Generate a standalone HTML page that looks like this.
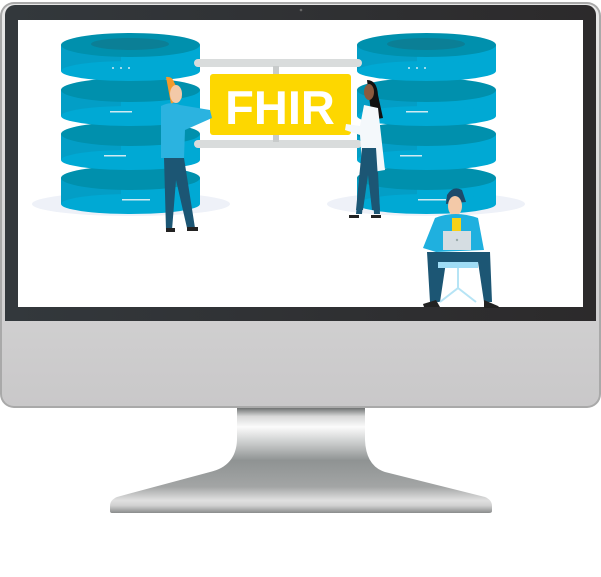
<!DOCTYPE html>
<html><head><meta charset="utf-8"><style>
html,body{margin:0;padding:0;background:#fff;}
svg{display:block;}
</style></head><body>
<svg width="601" height="577" viewBox="0 0 601 577" xmlns="http://www.w3.org/2000/svg">
<defs>
<linearGradient id="chin" x1="0" y1="0" x2="0" y2="1">
<stop offset="0" stop-color="#e8e8e8"/><stop offset="1" stop-color="#c9c8c9"/></linearGradient>
<linearGradient id="neck" x1="0" y1="0" x2="0" y2="1">
<stop offset="0" stop-color="#6f7272"/><stop offset="0.08" stop-color="#d8d9d9"/><stop offset="0.18" stop-color="#fbfbfb"/><stop offset="0.35" stop-color="#c4c6c6"/><stop offset="0.5" stop-color="#8f9393"/><stop offset="0.75" stop-color="#a3a5a5"/><stop offset="0.88" stop-color="#e0e0e0"/><stop offset="0.93" stop-color="#d0d0d0"/><stop offset="1" stop-color="#8a8c8c"/></linearGradient>
<linearGradient id="bez" x1="0" y1="0" x2="1" y2="0">
<stop offset="0" stop-color="#33383c"/><stop offset="1" stop-color="#2c2a2b"/></linearGradient>
<g id="disc">
<rect x="0" y="12" width="139" height="26" fill="#00a9d4"/>
<rect x="0" y="12" width="60" height="26" fill="#039ec6"/>
<ellipse cx="69.5" cy="38" rx="69.5" ry="10" fill="#00a9d4"/>
<ellipse cx="69.5" cy="12" rx="69.5" ry="12" fill="#0090ad"/>
</g>
</defs>
<!-- monitor body -->
<rect x="0" y="2" width="601" height="406" rx="14" fill="#a9a9a9"/>
<rect x="2" y="4" width="597" height="402" rx="12" fill="url(#chin)"/>
<rect x="5" y="5" width="591" height="316" rx="10" fill="url(#bez)"/>
<rect x="5" y="300" width="591" height="21" fill="url(#bez)"/>
<circle cx="301" cy="10" r="1.3" fill="#666"/>
<!-- stand -->
<path d="M237 408 H365 V440 Q366 466 385 472 L485 497 Q492 500 492 506 V511 Q492 513 489 513 H112 Q110 513 110 511 V506 Q110 500 117 497 L210 472 Q236 466 237 440 Z" fill="url(#neck)"/>
<!-- screen -->
<rect x="18" y="20" width="565" height="287" fill="#fff"/>
<!-- shadows -->
<ellipse cx="131" cy="204" rx="99" ry="12" fill="#eef1f8"/>
<ellipse cx="426" cy="204" rx="99" ry="12" fill="#eef1f8"/>
<!-- left db -->
<use href="#disc" x="61" y="166"/><use href="#disc" x="61" y="122"/><use href="#disc" x="61" y="78"/><use href="#disc" x="61" y="33"/>
<ellipse cx="130" cy="44" rx="39" ry="6" fill="#0b7f96"/>
<use href="#disc" x="357" y="166"/><use href="#disc" x="357" y="122"/><use href="#disc" x="357" y="78"/><use href="#disc" x="357" y="33"/>
<ellipse cx="426" cy="44" rx="39" ry="6" fill="#0b7f96"/>
<g fill="#cfeaf2"><circle cx="113" cy="68" r="1"/><circle cx="121" cy="68" r="1"/><circle cx="129" cy="68" r="1"/><circle cx="409" cy="68" r="1"/><circle cx="417" cy="68" r="1"/><circle cx="425" cy="68" r="1"/>
<rect x="110" y="111" width="22" height="1.5"/><rect x="406" y="111" width="22" height="1.5"/><rect x="104" y="155" width="22" height="1.5"/><rect x="400" y="155" width="22" height="1.5"/><rect x="122" y="199" width="28" height="1.5"/><rect x="418" y="199" width="28" height="1.5"/></g>
<!-- rods -->
<rect x="194" y="59" width="168" height="8" rx="4" fill="#d9dcdc"/>
<rect x="194" y="140" width="168" height="8" rx="4" fill="#d9dcdc"/>
<rect x="273" y="66" width="6" height="10" fill="#c8cbcb"/>
<rect x="273" y="134" width="6" height="8" fill="#c8cbcb"/>
<!-- sign -->
<rect x="210" y="74" width="141" height="61" rx="3" fill="#fdd700"/>
<text x="280" y="124" text-anchor="middle" font-family="Liberation Sans, sans-serif" font-weight="bold" font-size="47" fill="#fff">FHIR</text>
<!-- man left -->
<path d="M166 77 Q172 76 174 82 L182 98 L171 104 Z" fill="#f39a2a"/>
<ellipse cx="176" cy="94" rx="6" ry="9" fill="#f3c9a8"/>
<path d="M161 106 Q170 101 180 105 L210 110 L212 118 L185 130 L184 158 H161 Z" fill="#2bb3e0"/>
<path d="M164 158 H184 L195 228 H187 L176 180 L172 230 H166 Z" fill="#1c5674"/>
<rect x="166" y="228" width="9" height="4" fill="#222"/><rect x="187" y="227" width="11" height="4" fill="#222"/>
<!-- woman -->
<path d="M367 80 Q377 80 378 95 L383 118 L372 120 Z" fill="#111"/>
<ellipse cx="369" cy="92" rx="5" ry="8" fill="#8a5a3e"/>
<path d="M364 105 L378 108 L385 170 L372 172 L362 165 L360 135 L345 130 L346 124 L360 126 Z" fill="#f4f8fb"/>
<path d="M362 148 H376 L380 210 H372 L368 175 L363 210 H356 Z" fill="#1c5674"/>
<rect x="349" y="215" width="10" height="3" fill="#222"/><rect x="371" y="215" width="10" height="3" fill="#222"/>
<path d="M360 172 L356 214 H362 L366 172 Z M372 172 L374 214 H380 L378 172 Z" fill="#1c5674"/>
<!-- seated man -->
<path d="M447 195 Q453 185 462 190 L466 202 L446 204 Z" fill="#1c4a6b"/>
<ellipse cx="455" cy="206" rx="7" ry="10" fill="#f3c9a8"/>
<path d="M435 218 Q455 210 478 218 L484 250 L436 252 L423 248 Z" fill="#1fb0df"/>
<rect x="452" y="218" width="9" height="16" fill="#f7d117"/>
<rect x="443" y="231" width="28" height="19" fill="#d5dde2"/>
<circle cx="457" cy="240" r="1.2" fill="#9aa"/>
<path d="M427 252 H490 L492 302 H484 L478 262 H446 L440 302 H430 Z" fill="#1c5674"/>
<rect x="438" y="262" width="40" height="6" fill="#9fdcf5"/>
<path d="M458 268 V288 L440 302 M458 288 L476 302" stroke="#b6e4f5" stroke-width="2" fill="none"/>
<path d="M423 304 L436 300 L440 307 H424 Z M484 300 L498 306 L500 308 H484 Z" fill="#222"/>
</svg>
</body></html>
